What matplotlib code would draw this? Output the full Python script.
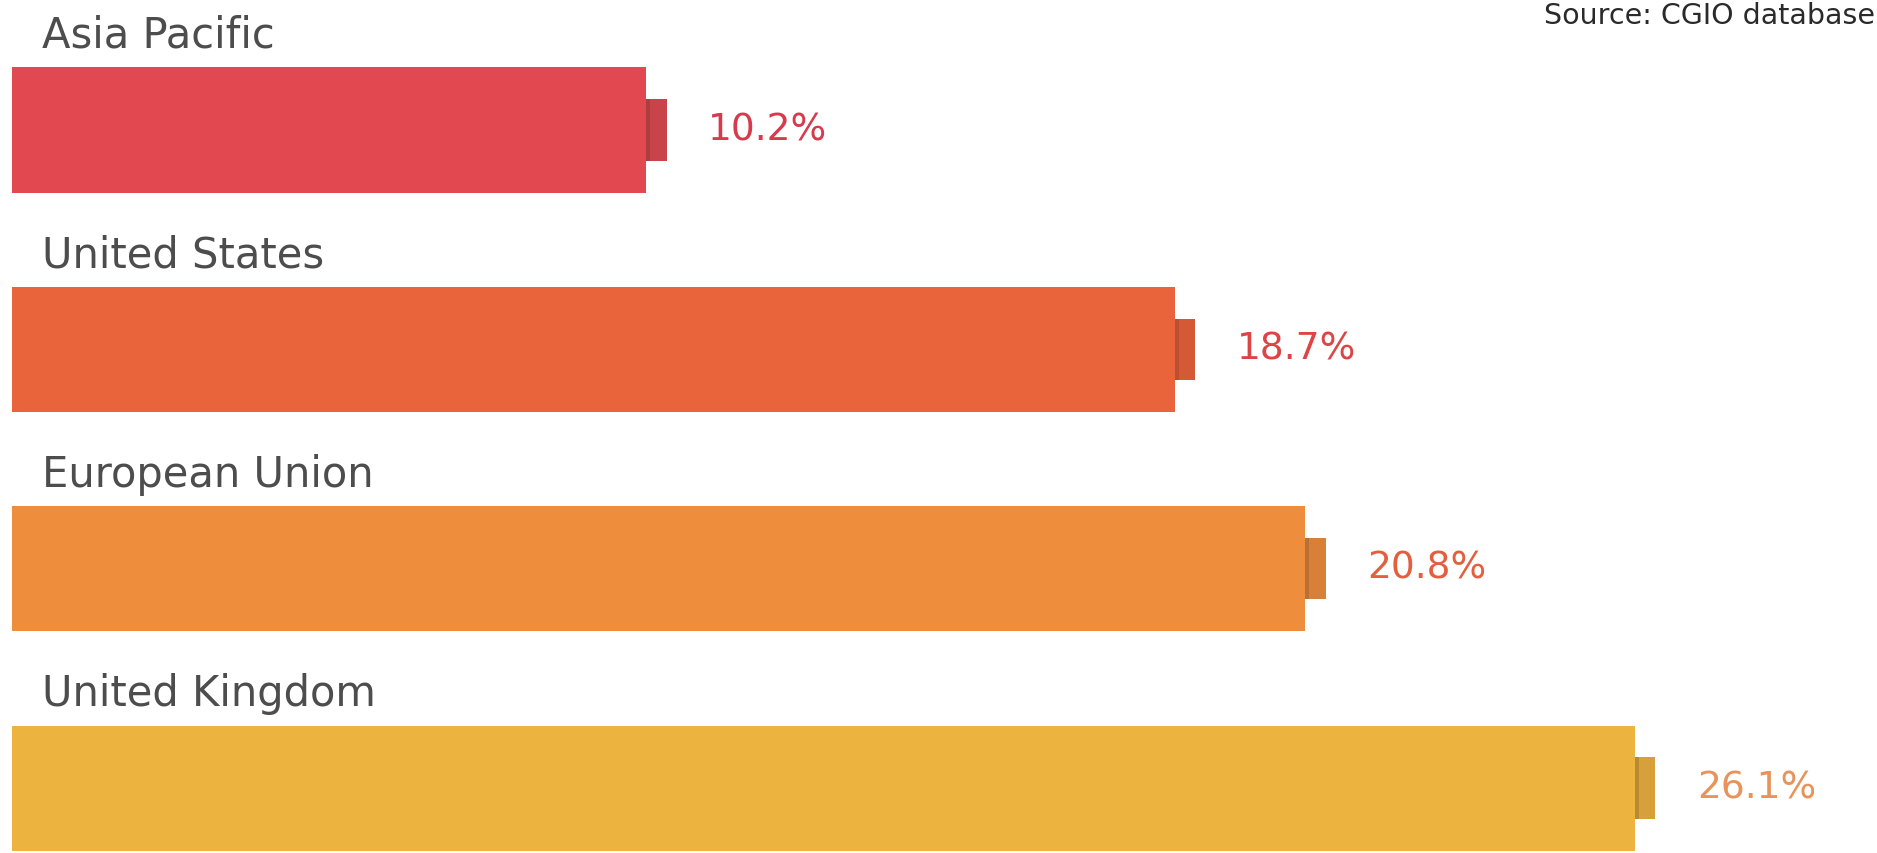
import matplotlib
matplotlib.use("Agg")
import matplotlib.pyplot as plt

plt.rcParams['font.family'] = ['DejaVu Sans']

categories = ["Asia Pacific", "United States", "European Union", "United Kingdom"]
values = [10.2, 18.7, 20.8, 26.1]
value_labels = ["10.2%", "18.7%", "20.8%", "26.1%"]
bar_colors = ["#e2484f", "#e9633b", "#ee8e3c", "#ecb43f"]
cap_colors = ["#c9434a", "#d45a36", "#d98038", "#d8a03a"]
edge_colors = ["#9c3a3a", "#a84a2e", "#a8652e", "#a37d2c"]
label_colors = ["#d83a4d", "#dc4446", "#e2603f", "#e8935a"]
source_text = "Source: CGIO database"

W, H = 1877, 853
fig = plt.figure(figsize=(W / 100 + 0.001, H / 100 + 0.001), dpi=100)
fig.patch.set_facecolor("white")
ax = fig.add_axes([12 / W, 0, 1 - 12 / W, 1])
ax.set_xlim(0, 30)
ax.set_ylim(3.296, -0.593)
ax.axis("off")

ypos = list(range(len(categories)))
bar_h = 0.57
cap_w = 0.33
cap_h = 0.28

ax.barh(ypos, values, height=bar_h, color=bar_colors, edgecolor="none", zorder=2)
ax.barh(ypos, [cap_w] * len(values), left=values, height=cap_h,
        color=cap_colors, edgecolor="none", zorder=1)
ax.barh(ypos, [0.07] * len(values), left=values, height=cap_h,
        color=edge_colors, edgecolor="none", zorder=1.5, alpha=0.6)

for y, cat, v, lab, lc in zip(ypos, categories, values, value_labels, label_colors):
    ax.text(0.48, y - bar_h / 2 - 0.09, cat, ha="left", va="baseline",
            fontsize=30, color="#4d4d4d")
    ax.annotate(lab, xy=(v + cap_w, y), xytext=(30, 0), textcoords="offset points",
                ha="left", va="center", fontsize=27, color=lc)

fig.text(1 - 2 / W, 1 - 2 / H, source_text, ha="right", va="top",
         fontsize=20.5, color="#2a2a2a")

fig.savefig("out.png", dpi=100, facecolor="white")
